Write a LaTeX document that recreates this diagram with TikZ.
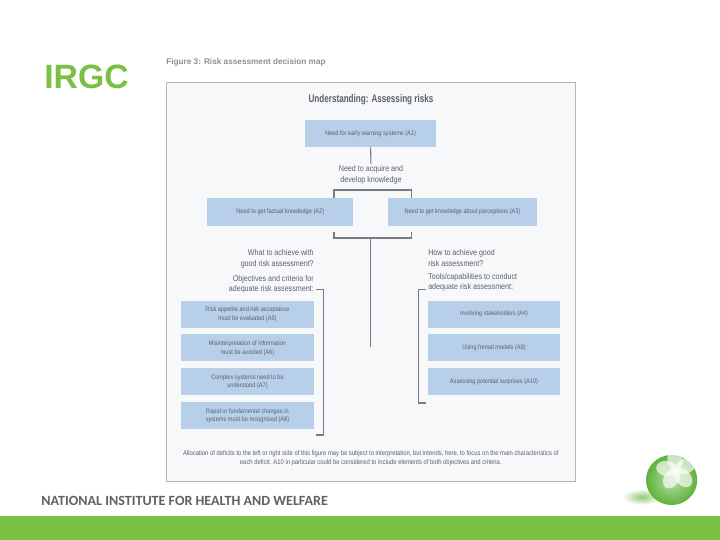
\documentclass[tikz,border=0pt]{standalone}
\usepackage{fontspec}
\usepackage{xcolor}
\setmainfont{Liberation Sans}
\newfontfamily\narrowfont[FakeStretch=0.86]{Liberation Sans}
\newfontfamily\titlefont[FakeStretch=0.74]{Liberation Sans}
\newfontfamily\footerfont{Carlito}
\usetikzlibrary{positioning}
\definecolor{panelfill}{RGB}{246,248,250}
\definecolor{panelline}{RGB}{178,182,186}
\definecolor{boxblue}{RGB}{184,207,233}
\definecolor{linegray}{RGB}{120,124,130}
\definecolor{textgray}{RGB}{92,96,104}
\definecolor{slidegreen}{RGB}{122,193,67}
\definecolor{orbgreen}{RGB}{96,178,60}

\begin{document}
\begin{tikzpicture}[font=\narrowfont, text=textgray]
\tikzstyle{panelbox}=[draw=panelline, line width=0.7pt, fill=panelfill, minimum width=10.225cm, minimum height=9.975cm, inner sep=0pt]
\tikzstyle{box}=[fill=boxblue, minimum width=3.3cm, minimum height=0.675cm, inner sep=0pt, align=center, font=\narrowfont\fontsize{4.65}{6.2}\selectfont]
\tikzstyle{question}=[inner sep=0pt, font=\narrowfont\fontsize{5.9}{7.2}\selectfont]
\tikzstyle{link}=[draw=linegray, line width=0.75pt]
\useasboundingbox (0,0) rectangle (18,-13.5);
\fill[white] (0,0) rectangle (18,-13.5);
\node[inner sep=0pt, font=\fontsize{24}{28}\selectfont\bfseries, text=slidegreen, anchor=west] (irgc) at (1.1,-1.93) {IRGC};
\node[inner sep=0pt, font=\fontsize{5.85}{7}\selectfont\bfseries, text=textgray!70, anchor=west] (caption) at (4.15,-1.56) {Figure 3: Risk assessment decision map};
\node[panelbox] (panel) at (9.2625,-7.0375) {};
\node[inner sep=0pt, font=\titlefont\fontsize{7.8}{9}\selectfont\bfseries] (title) at (9.275,-2.5) {Understanding: Assessing risks};
\node[box, minimum width=3.275cm] (early) at (9.2625,-3.3375) {Need for early warning systems (A1)};
\node[question, align=center, outer sep=1.5pt] (need) at (9.275,-4.37) {Need to acquire and\\develop knowledge};
\node[box, minimum width=3.66cm, minimum height=0.7cm] (factual) at (7.006,-5.3) {Need to get factual knowledge (A2)};
\node[box, minimum width=3.725cm, minimum height=0.7cm] (percept) at (11.5625,-5.3) {Need to get knowledge about perceptions (A3)};
\coordinate (topleft) at (8.35,-4.95);
\coordinate (topright) at (10.29,-4.95);
\coordinate (topmid) at (9.2625,-4.75);
\coordinate (lowleft) at (8.35,-5.8);
\coordinate (lowright) at (10.29,-5.8);
\coordinate (lowmid) at (9.2625,-5.95);
\coordinate (stemend) at (9.2625,-8.68);
\draw[link] (early) -- (need);
\draw[link] (topleft) |- (topmid) -| (topright);
\draw[link] (lowleft) |- (lowmid) -| (lowright);
\draw[link] (lowmid) -- (stemend);
\node[question, align=right, anchor=north east] (what) at (7.85,-6.24) {What to achieve with\\good risk assessment?};
\node[question, align=right, below=0.17cm of what.south east, anchor=north east] (objectives) {Objectives and criteria for\\adequate risk assessment:};
\node[question, align=left, anchor=north west] (how) at (10.7,-6.24) {How to achieve good\\risk assessment?};
\node[question, align=left, below=0.17cm of how.south west, anchor=north west] (tools) {Tools/capabilities to conduct\\adequate risk assessment:};
\node[box, minimum width=3.325cm] (appetite) at (6.1875,-7.85) {Risk appetite and risk acceptance\\must be evaluated (A5)};
\node[box, minimum width=3.325cm, below=0.16cm of appetite] (misread) {Misinterpretation of information\\must be avoided (A6)};
\node[box, minimum width=3.325cm, below=0.16cm of misread] (complex) {Complex systems need to be\\understood (A7)};
\node[box, minimum width=3.325cm, below=0.16cm of complex] (rapid) {Rapid or fundamental changes in\\systems must be recognised (A8)};
\node[box] (involve) at (12.35,-7.85) {Involving stakeholders (A4)};
\node[box, below=0.16cm of involve] (formal) {Using formal models (A9)};
\node[box, below=0.16cm of formal] (surprise) {Assessing potential surprises (A10)};
\coordinate (leftup) at (7.9,-7.23);
\coordinate (leftdown) at (7.9,-10.875);
\coordinate (rightup) at (10.65,-7.23);
\coordinate (rightdown) at (10.65,-10.075);
\draw[link] (leftup) -- ++(0.18,0) |- (leftdown);
\draw[link] (rightup) -- ++(-0.18,0) |- (rightdown);
\node[inner sep=0pt, align=center, font=\narrowfont\fontsize{4.85}{6.3}\selectfont] (note) at (9.27,-11.46) {Allocation of deficits to the left or right side of this figure may be subject to interpretation, but intends, here, to focus on the main characteristics of\\each deficit. A10 in particular could be considered to include elements of both objectives and criteria.};
\node[inner sep=0pt, font=\footerfont\fontsize{10}{12}\selectfont\bfseries, text=black!62, anchor=west] (institute) at (1.03,-12.52) {NATIONAL INSTITUTE FOR HEALTH AND WELFARE};
\fill[slidegreen] (0,-12.9) rectangle (18,-13.5);
% orb with shadow
\shade[inner color=orbgreen!70, outer color=white] (16.05,-12.42) ellipse (0.5cm and 0.2cm);
\shade[inner color=orbgreen!45, outer color=orbgreen, shading=radial] (16.79,-12) ellipse (0.64cm and 0.625cm);
\foreach \petalangle in {25,100,172,238,310}
  \fill[white, opacity=0.65, rotate around={\petalangle:(16.92,-11.75)}] (17.17,-11.75) ellipse (0.27cm and 0.19cm);
\end{tikzpicture}
\end{document}
